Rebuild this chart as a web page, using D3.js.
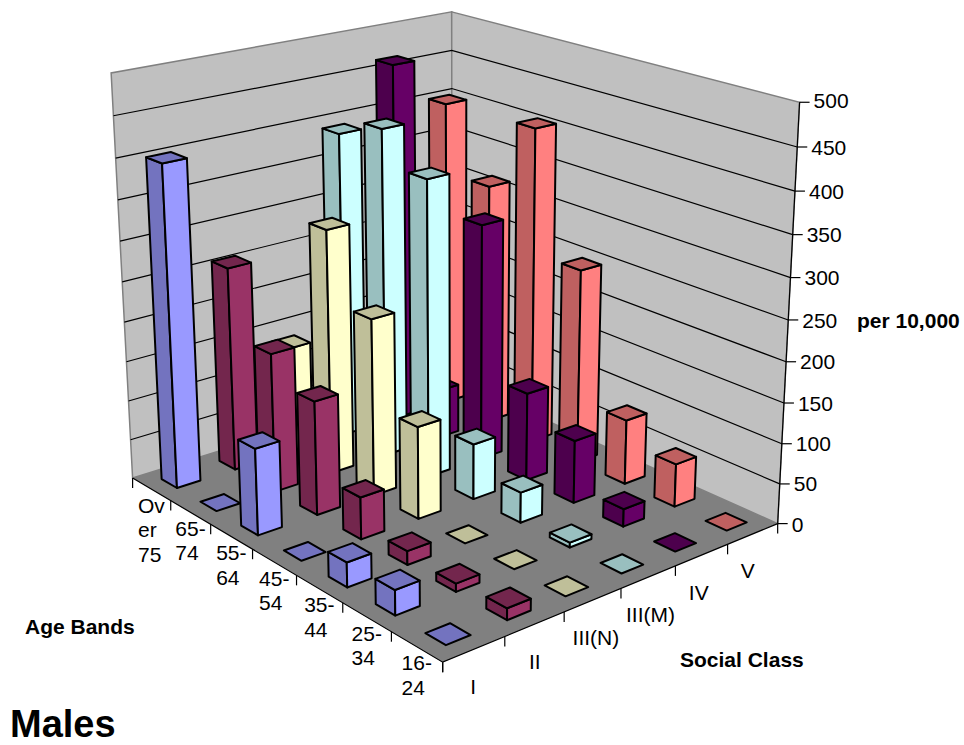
<!DOCTYPE html>
<html>
<head>
<meta charset="utf-8">
<script src="https://cdn.jsdelivr.net/npm/d3@7"></script>
<style>
  html, body { margin: 0; padding: 0; background: #fff; }
  text { font-family: "Liberation Sans", Arial, sans-serif; fill: #000; }
  .bold { font-weight: bold; }
</style>
</head>
<body>
<div id="chart"></div>
<script>
// data
const classes = ["I", "II", "III(N)", "III(M)", "IV", "V"]
const ages = ["16-24", "25-34", "35-44", "45-54", "55-64", "65-74", "Over 75"]
const ageLines = [["16-", "24"], ["25-", "34"], ["35-", "44"], ["45-", "54"], ["55-", "64"], ["65-", "74"], ["Ov", "er", "75"]]

// rates per 10,000, in the order of ages
const classI = [0, 30, 30, 0, 107, 0, 402]
const classII = [14, 10, 17, 52, 142, 175, 258]
const classIIIN = [0, 0, 0, 115, 222, 309, 136]
const classIIIM = [0, 6, 38, 70, 374, 416, 392]
const classIV = [0, 22, 79, 112, 301, 63, 464]
const classV = [0, 54, 82, 248, 405, 313, 401]
const series = [classI, classII, classIIIN, classIIIM, classIV, classV]

const faceColors = ["#9999ff", "#993366", "#ffffcc", "#ccffff", "#660066", "#ff8080"]
const valueTicks = d3.range(0, 501, 50)

// scales, all into the unit cube
const x = d3.scaleBand().domain(classes).range([0, 1]).paddingInner(0.6).paddingOuter(0.3)
const z = d3.scaleBand().domain(ages).range([0, 1]).paddingInner(0.6).paddingOuter(0.3)
const y = d3.scaleLinear().domain([0, 500]).range([0, 1])

// the box corners as seen in the picture, [x, y, z] -> [px, py]
const frame = [
  [[0, 0, 0], [443, 662]],
  [[1, 0, 0], [777, 524]],
  [[0, 0, 1], [132, 478]],
  [[1, 0, 1], [453, 378]],
  [[1, 1, 0], [800, 102]],
  [[0, 1, 1], [111.5, 73]],
  [[1, 1, 1], [451, 12]]
]

// least squares fit of the camera matrix
function fitCamera(points) {
  let rows = []
  points.forEach(([p, q]) => {
    let [a, b, c] = p
    rows.push([a, b, c, 1, 0, 0, 0, 0, -q[0] * a, -q[0] * b, -q[0] * c, q[0]])
    rows.push([0, 0, 0, 0, a, b, c, 1, -q[1] * a, -q[1] * b, -q[1] * c, q[1]])
  })
  let n = 11
  let m = d3.range(n).map(i => d3.range(n + 1).map(j =>
    d3.sum(rows, r => r[i] * r[j])))
  for (let i = 0; i < n; i++) {
    let best = i
    for (let k = i + 1; k < n; k++) if (Math.abs(m[k][i]) > Math.abs(m[best][i])) best = k
    ;[m[i], m[best]] = [m[best], m[i]]
    for (let k = 0; k < n; k++) {
      if (k === i) continue
      let f = m[k][i] / m[i][i]
      for (let j = i; j <= n; j++) m[k][j] -= f * m[i][j]
    }
  }
  return d3.range(n).map(i => m[i][n] / m[i][i])
}
const cam = fitCamera(frame)

const project = (a, b, c) => {
  let w = cam[8] * a + cam[9] * b + cam[10] * c + 1
  return [
    (cam[0] * a + cam[1] * b + cam[2] * c + cam[3]) / w,
    (cam[4] * a + cam[5] * b + cam[6] * c + cam[7]) / w
  ]
}
const poly = pts => d3.line()(pts.map(p => project(...p))) + "Z"

const svg = d3.select("#chart").append("svg")
  .attr("width", 964)
  .attr("height", 745)

// walls and floor
const wallColor = "#c0c0c0", edgeColor = "#808080"
svg.append("path")
  .attr("d", poly([[0, 0, 1], [1, 0, 1], [1, 1, 1], [0, 1, 1]]))
  .attr("fill", wallColor).attr("stroke", edgeColor).attr("stroke-width", 1.5)
svg.append("path")
  .attr("d", poly([[1, 0, 1], [1, 0, 0], [1, 1, 0], [1, 1, 1]]))
  .attr("fill", wallColor).attr("stroke", edgeColor).attr("stroke-width", 1.5)

// gridlines
valueTicks.slice(1, -1).forEach(t => {
  let pts = [[0, y(t), 1], [1, y(t), 1], [1, y(t), 0]].map(p => project(...p))
  svg.append("path").attr("d", d3.line()(pts))
    .attr("fill", "none").attr("stroke", "#000").attr("stroke-width", 1.2)
})

svg.append("path")
  .attr("d", poly([[0, 0, 0], [1, 0, 0], [1, 0, 1], [0, 0, 1]]))
  .attr("fill", "#808080")

// floor axes
svg.append("path")
  .attr("d", d3.line()([[0, 0, 1], [0, 0, 0], [1, 0, 0]].map(p => project(...p))))
  .attr("fill", "none").attr("stroke", "#000").attr("stroke-width", 1.2)

// value axis
svg.append("path")
  .attr("d", d3.line()([[1, 0, 0], [1, 1, 0]].map(p => project(...p))))
  .attr("fill", "none").attr("stroke", "#000").attr("stroke-width", 1.2)

valueTicks.forEach(t => {
  let [px, py] = project(1, y(t), 0)
  svg.append("line")
    .attr("x1", px).attr("y1", py).attr("x2", px + 10).attr("y2", py)
    .attr("stroke", "#000").attr("stroke-width", 1.2)
  svg.append("text")
    .attr("x", px + 14).attr("y", py + (t === 0 ? 1 : t === 500 ? -2 : 0))
    .attr("dy", "0.36em")
    .attr("font-size", 21)
    .text(t)
})

// category ticks, hanging from the floor edge
d3.range(classes.length + 1).forEach(i => {
  let [px, py] = project(i / classes.length, 0, 0)
  svg.append("line").attr("x1", px).attr("y1", py).attr("x2", px).attr("y2", py + 10)
    .attr("stroke", "#000").attr("stroke-width", 1.2)
})
d3.range(ages.length + 1).forEach(i => {
  let [px, py] = project(0, 0, i / ages.length)
  svg.append("line").attr("x1", px).attr("y1", py).attr("x2", px).attr("y2", py + 10)
    .attr("stroke", "#000").attr("stroke-width", 1.2)
})

// category labels, the original placement wanders a little from the band centre
const classLabelNudge = [-1, 0, 3, 2, -3, -5]
classes.forEach((c, i) => {
  let [px, py] = project(x(c) + x.bandwidth() / 2, 0, 0)
  svg.append("text")
    .attr("x", px + classLabelNudge[i]).attr("y", py + 37)
    .attr("dy", "0.36em")
    .attr("text-anchor", "middle")
    .attr("font-size", 21)
    .text(c)
})
// wrapped age labels, left aligned inside a block centred on the band
ages.forEach((a, i) => {
  let [px, py] = project(0, 0, z(a) + z.bandwidth() / 2)
  let lines = ageLines[i].map((line, k) => svg.append("text")
    .attr("y", py + 16 + k * 24.5)
    .attr("dy", "0.36em")
    .attr("font-size", 21)
    .text(line))
  let block = d3.max(lines, l => l.node().getComputedTextLength())
  lines.forEach(l => l.attr("x", px - block / 2))
})

// bars, far ones first
const darkColors = faceColors.map(c => {
  let k = d3.rgb(c)
  return d3.rgb(k.r * 0.75, k.g * 0.75, k.b * 0.75).formatHex()
})

d3.range(ages.length - 1, -1, -1).forEach(ai => {
  d3.range(classes.length - 1, -1, -1).forEach(ci => {
    let v = series[ci][ai]
    let x0 = x(classes[ci]), x1 = x0 + x.bandwidth()
    let z0 = z(ages[ai]), z1 = z0 + z.bandwidth()
    let h = y(v)
    let g = svg.append("g")
      .attr("stroke", "#000").attr("stroke-width", 2).attr("stroke-linejoin", "round")
    if (v > 0) {
      g.append("path").attr("fill", darkColors[ci])
        .attr("d", poly([[x0, 0, z0], [x0, 0, z1], [x0, h, z1], [x0, h, z0]]))
      g.append("path").attr("fill", faceColors[ci])
        .attr("d", poly([[x0, 0, z0], [x1, 0, z0], [x1, h, z0], [x0, h, z0]]))
    }
    g.append("path").attr("fill", darkColors[ci])
      .attr("d", poly([[x0, h, z0], [x1, h, z0], [x1, h, z1], [x0, h, z1]]))
  })
})

// axis titles
svg.append("text").attr("class", "bold").attr("x", 857).attr("y", 320)
  .attr("dy", "0.36em").attr("font-size", 21).text("per 10,000")
svg.append("text").attr("class", "bold").attr("x", 25).attr("y", 626)
  .attr("dy", "0.36em").attr("font-size", 21).text("Age Bands")
svg.append("text").attr("class", "bold").attr("x", 680).attr("y", 659)
  .attr("dy", "0.36em").attr("font-size", 21).text("Social Class")
svg.append("text").attr("class", "bold").attr("x", 10).attr("y", 723)
  .attr("dy", "0.36em").attr("font-size", 38).text("Males")
</script>
</body>
</html>
